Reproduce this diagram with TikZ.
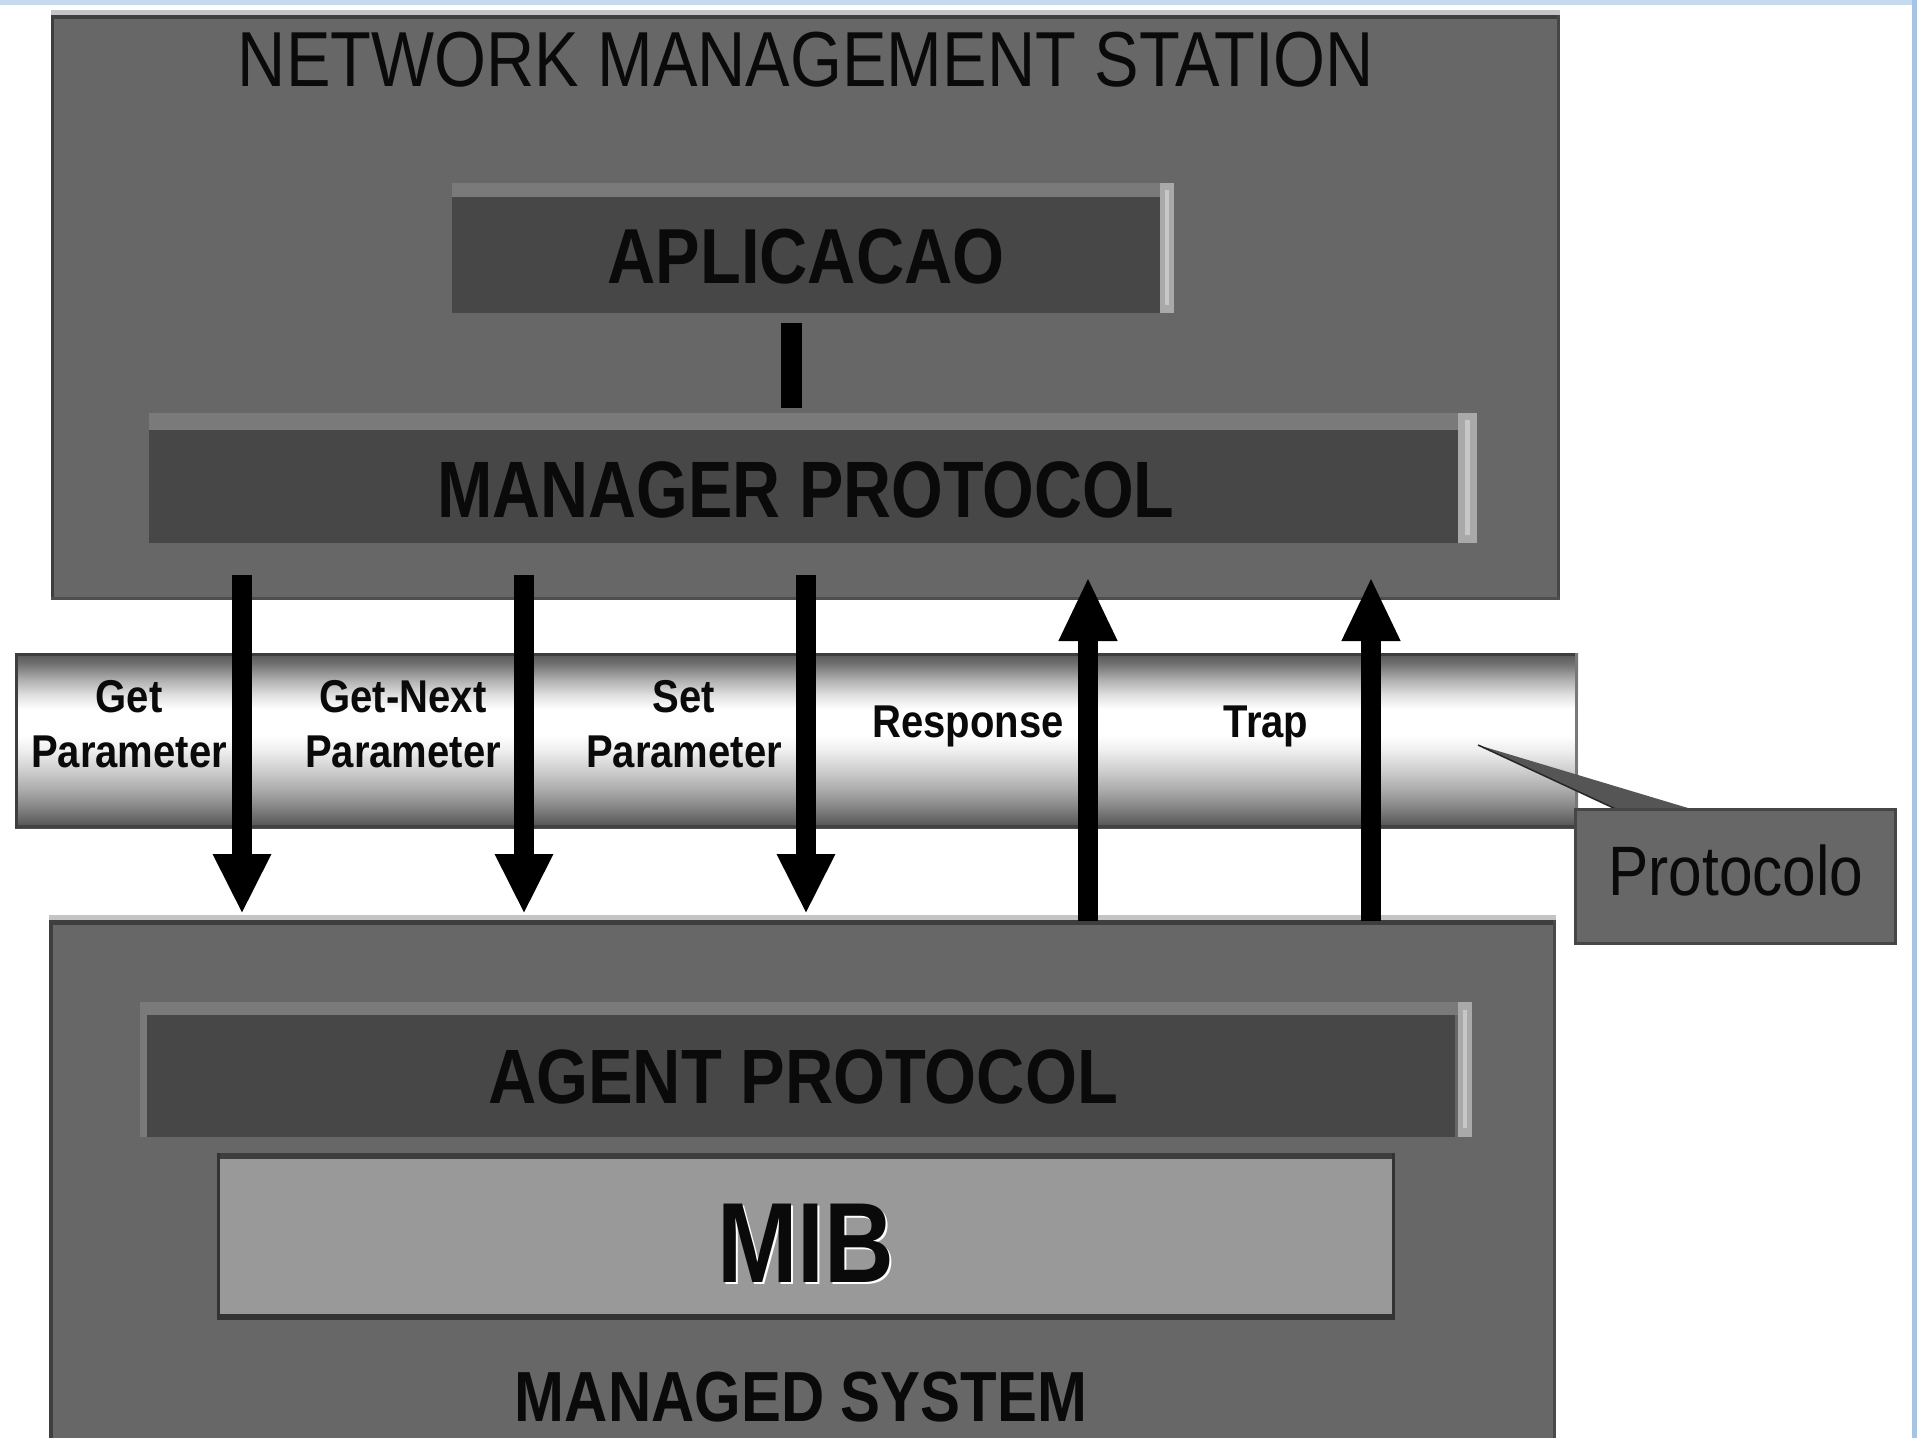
\documentclass[tikz,border=0pt]{standalone}
\usepackage{fontspec}
\setmainfont{Liberation Sans}
\usepackage{graphicx}
\usetikzlibrary{arrows.meta,calc}

% palette
\definecolor{boxgray}{HTML}{676767}
\definecolor{layer}{HTML}{474747}
\definecolor{bevtop}{HTML}{7A7A7A}
\definecolor{bevside}{HTML}{A9A9A9}
\definecolor{edge}{HTML}{3E3E3E}
\definecolor{mibfill}{HTML}{999999}
\definecolor{rimlight}{HTML}{C4C4C4}
\definecolor{frameblue}{HTML}{C6DAEE}
\definecolor{frameblueB}{HTML}{A7C4E4}
\definecolor{ink}{HTML}{0A0A0A}
\definecolor{wedgegray}{HTML}{555555}

% cylinder-like shading of the protocol tape (path maps to 25bp..75bp)
\definecolor{tA}{HTML}{505050}
\definecolor{tB}{HTML}{6A6A6A}
\definecolor{tC}{HTML}{8A8A8A}
\definecolor{tD}{HTML}{ABABAB}
\definecolor{tE}{HTML}{CFCFCF}
\definecolor{tF}{HTML}{EFEFEF}
\definecolor{tG}{HTML}{FFFFFF}
\definecolor{tH}{HTML}{E0E0E0}
\definecolor{tI}{HTML}{B0B0B0}
\definecolor{tJ}{HTML}{707070}
\definecolor{tK}{HTML}{555555}
\pgfdeclareverticalshading{tapeshade}{100bp}{%
  color(0bp)=(tA); color(25bp)=(tA); color(27.9bp)=(tB); color(31.6bp)=(tC);
  color(35.9bp)=(tD); color(41.6bp)=(tE); color(47.3bp)=(tF); color(51.6bp)=(tG);
  color(59bp)=(tG); color(63bp)=(tH); color(67.3bp)=(tI); color(72bp)=(tJ);
  color(75bp)=(tK); color(100bp)=(tK)}

\tikzset{
  plate/.style={rectangle, draw=none, inner sep=0pt, outer sep=0pt},
  lbl/.style={inner sep=0pt, outer sep=0pt, text=ink, anchor=base},
  tapelbl/.style={lbl, font=\fontsize{46}{55}\selectfont\bfseries},
  downarrow/.style={line width=20pt, black, -{Triangle[width=54pt,length=60pt]}},
  uparrow/.style={line width=20pt, black, -{Triangle[width=54pt,length=64pt]}},
  linkbar/.style={line width=21pt, black},
}
\newcommand{\narrow}[1]{\scalebox{0.87}[1]{#1}}

\begin{document}
\begin{tikzpicture}[x=1pt,y=-1pt]
\useasboundingbox (0,0) rectangle (1917,1438);
\fill[white] (0,0) rectangle (1917,1438);

% window frame strips
\fill[frameblue] (0,0) rectangle (1917,5);
\fill[frameblueB] (1912,0) rectangle (1917,1438);

% ---------------- network management station ----------------
\node[plate, fill=boxgray, minimum width=1509pt, minimum height=585pt] (nms) at (805.5,307.5) {};
\fill[rimlight] (51,10) rectangle (1560,15);
\fill[edge] (51,15) rectangle (1560,19);
\fill[edge] (51,15) rectangle (54,600);
\fill[edge!80!boxgray] (1557,15) rectangle (1560,600);
\fill[edge!60!boxgray] (51,597) rectangle (1560,600);

% application layer
\node[plate, fill=layer, minimum width=708pt, minimum height=116pt] (apl) at (806,255) {};
\fill[bevtop] (452,183) rectangle (1174,197);
\fill[bevside] (1160,183) rectangle (1174,313);
\fill[white!35!bevside] (1165,190) rectangle (1169,305);

% manager protocol layer
\node[plate, fill=layer, minimum width=1309pt, minimum height=113pt] (mgr) at (803.5,486.5) {};
\fill[bevtop] (149,413) rectangle (1477,430);
\fill[bevside] (1458,413) rectangle (1477,543);
\fill[white!35!bevside] (1465,420) rectangle (1470,535);

% link between application and manager protocol
\coordinate (barTop) at (791,323);
\coordinate (barBot) at (791,408);
\draw[linkbar] (barTop) -- (barBot);

% ---------------- managed system ----------------
\node[plate, fill=boxgray, minimum width=1507pt, minimum height=518pt] (ms) at (802.5,1179) {};
\fill[rimlight] (49,915) rectangle (1556,920);
\fill[edge] (49,920) rectangle (1556,925);
\fill[edge] (49,920) rectangle (53,1438);
\fill[edge!70!boxgray] (1553,920) rectangle (1556,1438);

% agent protocol layer
\node[plate, fill=layer, minimum width=1308pt, minimum height=122pt] (agt) at (801,1076) {};
\fill[bevtop] (140,1002) rectangle (1472,1015);
\fill[bevtop] (140,1002) rectangle (147,1137);
\fill[bevside] (1458,1002) rectangle (1472,1137);
\fill[white!35!bevside] (1463,1010) rectangle (1467,1128);

% MIB
\node[plate, fill=mibfill, minimum width=1178pt, minimum height=167pt] (mib) at (806,1236.5) {};
\fill[edge] (217,1153) rectangle (1395,1159);
\fill[black!80] (217,1314) rectangle (1395,1320);
\fill[black!80] (217,1153) rectangle (220,1320);
\fill[black!80] (1392,1153) rectangle (1395,1320);

% ---------------- protocol tape ----------------
\node[plate, shading=tapeshade, minimum width=1563pt, minimum height=175pt] (tape) at (796.5,740.5) {};
\fill[edge] (15,653) rectangle (1578,656);
\fill[edge!80!tA] (15,825) rectangle (1578,828);
\fill[edge] (15,653) rectangle (18,828);
\fill[edge!70!white] (1575,653) rectangle (1578,828);

% operation labels on the tape
\node[tapelbl] (getA) at (129,712) {\narrow{Get}};
\node[tapelbl] (getB) at (129,767) {\narrow{Parameter}};
\node[tapelbl] (nextA) at (403,712) {\narrow{Get-Next}};
\node[tapelbl] (nextB) at (403,767) {\narrow{Parameter}};
\node[tapelbl] (setA) at (684,712) {\narrow{Set}};
\node[tapelbl] (setB) at (684,767) {\narrow{Parameter}};
\node[tapelbl] (resp) at (968,737) {\narrow{Response}};
\node[tapelbl] (trap) at (1266,737) {\narrow{Trap}};

% request / reply arrows
\coordinate (getTop) at (242,575);   \coordinate (getBot) at (242,914);
\coordinate (nextTop) at (524,575);  \coordinate (nextBot) at (524,914);
\coordinate (setTop) at (806,575);   \coordinate (setBot) at (806,914);
\coordinate (respBot) at (1088,921); \coordinate (respTop) at (1088,577);
\coordinate (trapBot) at (1371,921); \coordinate (trapTop) at (1371,577);
\draw[downarrow] (getTop) -- (getBot);
\draw[downarrow] (nextTop) -- (nextBot);
\draw[downarrow] (setTop) -- (setBot);
\draw[uparrow] (respBot) -- (respTop);
\draw[uparrow] (trapBot) -- (trapTop);

% callout for the tape
\coordinate (calloutTip) at (1478,745);
\fill[wedgegray] (calloutTip) -- (1698,811) -- (1620,811) -- cycle;
\draw[black!85, line width=1.5pt] (calloutTip) -- (1620,811);
\node[plate, fill=boxgray, draw=edge!80!boxgray, line width=3pt, minimum width=320pt, minimum height=134pt] (proto) at (1735,876) {};
\node[lbl, font=\fontsize{70}{80}\selectfont] (protoTxt) at (1736,895) {\resizebox{255pt}{\height}{Protocolo}};

% ---------------- titles ----------------
\node[lbl, font=\fontsize{78}{90}\selectfont] (nmsTxt) at (806,86) {\resizebox{1136pt}{\height}{NETWORK MANAGEMENT STATION}};
\node[lbl, font=\fontsize{78}{90}\selectfont\bfseries] (aplTxt) at (806,283) {\resizebox{397pt}{\height}{APLICACAO}};
\node[lbl, font=\fontsize{80}{90}\selectfont\bfseries] (mgrTxt) at (806,517) {\resizebox{737pt}{\height}{MANAGER PROTOCOL}};
\node[lbl, font=\fontsize{77}{90}\selectfont\bfseries] (agtTxt) at (803,1103) {\resizebox{630pt}{\height}{AGENT PROTOCOL}};
\node[lbl, text=white, font=\fontsize{114}{120}\selectfont\bfseries] (mibGlow) at (808,1284) {\resizebox{177pt}{\height}{MIB}};
\node[lbl, font=\fontsize{114}{120}\selectfont\bfseries] (mibTxt) at (806,1282) {\resizebox{177pt}{\height}{MIB}};
\node[lbl, font=\fontsize{71}{80}\selectfont\bfseries] (msTxt) at (801,1421) {\resizebox{572pt}{\height}{MANAGED SYSTEM}};
\end{tikzpicture}
\end{document}
